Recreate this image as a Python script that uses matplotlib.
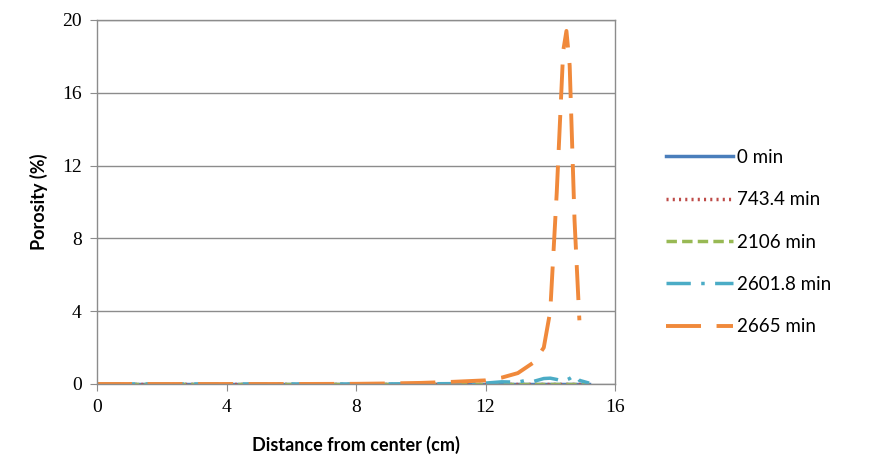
import numpy as np
import matplotlib
matplotlib.use("Agg")
import matplotlib.pyplot as plt

# distance from center (cm)
x_base = [0, 1, 2, 3, 4, 5, 6, 7, 8, 9, 10, 11, 12, 13, 14, 15.2]
y_zero = [0] * len(x_base)

x_2601 = [0, 2, 4, 6, 8, 10, 11, 12, 12.5, 13, 13.2, 13.5, 13.8, 14.0, 14.2, 14.4, 14.6, 14.75, 14.9, 15.2]
y_2601 = [0, 0, 0, 0, 0, 0.01, 0.02, 0.05, 0.12, 0.1, 0.18, 0.15, 0.3, 0.32, 0.25, 0.15, 0.3, 0.48, 0.2, 0.05]

x_2665 = [0, 2, 4, 6, 8, 9, 10, 11, 12, 12.5, 13, 13.5, 13.8, 14.0, 14.2, 14.4, 14.5, 14.6, 14.75, 14.9]
y_2665 = [0, 0, 0, 0, 0.01, 0.03, 0.06, 0.12, 0.2, 0.35, 0.6, 1.2, 2.0, 4.0, 10.5, 18.3, 19.4, 17.5, 9.0, 3.5]

labels = ["0 min", "743.4 min", "2106 min", "2601.8 min", "2665 min"]
colors = ["#4A7EBB", "#BE4B48", "#98B954", "#4BACC6", "#F0893B"]

fig = plt.figure(figsize=(8.71, 4.62), dpi=100)
ax = fig.add_axes([97 / 871, (462 - 384) / 462, 518 / 871, 364 / 462])

ax.plot(x_base, y_zero, color=colors[0], lw=2.5, label=labels[0])
ax.plot(x_base, y_zero, color=colors[1], lw=2.5, linestyle=(0, (0.6, 1.2)), label=labels[1])
ax.plot(x_base, y_zero, color=colors[2], lw=2.5, linestyle=(0, (3, 1.5)), label=labels[2])
ax.plot(x_2601, y_2601, color=colors[3], lw=2.5, linestyle=(0, (7, 3, 1, 3)), label=labels[3])
ax.plot(x_2665, y_2665, color=colors[4], lw=2.8, linestyle=(0, (9, 4)), label=labels[4])

ax.set_xlim(0, 16)
ax.set_ylim(0, 20)
ax.set_xticks([0, 4, 8, 12, 16])
ax.set_yticks([0, 4, 8, 12, 16, 20])
ax.yaxis.grid(True, color="#8C8C8C", lw=1)
ax.set_axisbelow(True)
for s in ax.spines.values():
    s.set_color("#8C8C8C")
    s.set_linewidth(1)
ax.tick_params(direction="out", length=5, color="#8C8C8C", labelsize=14, pad=6)
for lab in ax.get_xticklabels() + ax.get_yticklabels():
    lab.set_family("Liberation Serif")

ax.set_xlabel("Distance from center (cm)", fontsize=13, fontweight="bold", family="Lato", labelpad=14)
ax.set_ylabel("Porosity (%)", fontsize=13, fontweight="bold", family="Lato", labelpad=10)

ax.legend(loc="center left", bbox_to_anchor=(1.065, 0.39), frameon=False,
          prop={"family": "Lato", "size": 13.5}, handlelength=3.6, handletextpad=0.2,
          labelspacing=1.35)

fig.savefig("out.png", dpi=100)
